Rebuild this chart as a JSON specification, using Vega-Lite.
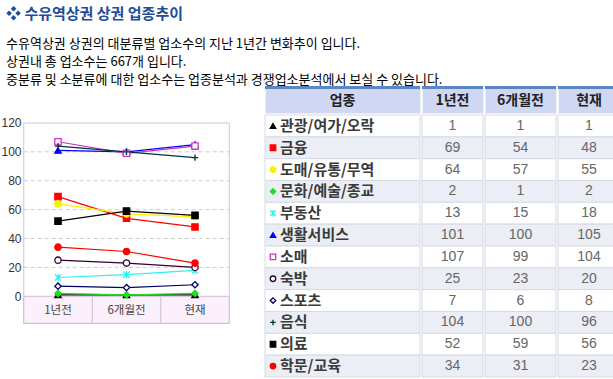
{
  "$schema": "https://vega.github.io/schema/vega-lite/v6.json",
  "padding": {"top": 6, "left": 0, "right": 0, "bottom": 0},
  "background": "white",
  "config": {
    "font": "Noto Sans CJK KR",
    "view": {"stroke": null},
    "axisX": {"disable": true},
    "concat": {"spacing": 0}
  },
  "title": {
    "text": "❖ 수유역상권 상권 업종추이",
    "subtitle": [
      "수유역상권 상권의 대분류별 업소수의 지난 1년간 변화추이 입니다.",
      "상권내 총 업소수는 667개 입니다.",
      "중분류 및 소분류에 대한 업소수는 업종분석과 경쟁업소분석에서 보실 수 있습니다."
    ],
    "anchor": "start",
    "frame": "group",
    "dx": 4,
    "color": "#1d4d9b",
    "font": "Noto Sans CJK KR",
    "fontSize": 15,
    "fontWeight": "bold",
    "subtitleColor": "#000000",
    "subtitleFont": "Noto Sans CJK KR",
    "subtitleFontSize": 13,
    "subtitleLineHeight": 18,
    "subtitlePadding": 16,
    "offset": -1
  },
  "datasets": {
    "rows": [
      {"i": 0, "name": "관광/여가/오락", "a": 1, "b": 1, "c": 1},
      {"i": 1, "name": "금융", "a": 69, "b": 54, "c": 48},
      {"i": 2, "name": "도매/유통/무역", "a": 64, "b": 57, "c": 55},
      {"i": 3, "name": "문화/예술/종교", "a": 2, "b": 1, "c": 2},
      {"i": 4, "name": "부동산", "a": 13, "b": 15, "c": 18},
      {"i": 5, "name": "생활서비스", "a": 101, "b": 100, "c": 105},
      {"i": 6, "name": "소매", "a": 107, "b": 99, "c": 104},
      {"i": 7, "name": "숙박", "a": 25, "b": 23, "c": 20},
      {"i": 8, "name": "스포츠", "a": 7, "b": 6, "c": 8},
      {"i": 9, "name": "음식", "a": 104, "b": 100, "c": 96},
      {"i": 10, "name": "의료", "a": 52, "b": 59, "c": 56},
      {"i": 11, "name": "학문/교육", "a": 34, "b": 31, "c": 23}
    ],
    "series": [
      {"name": "관광/여가/오락", "t": 0, "v": 1}, {"name": "관광/여가/오락", "t": 1, "v": 1}, {"name": "관광/여가/오락", "t": 2, "v": 1},
      {"name": "금융", "t": 0, "v": 69}, {"name": "금융", "t": 1, "v": 54}, {"name": "금융", "t": 2, "v": 48},
      {"name": "도매/유통/무역", "t": 0, "v": 64}, {"name": "도매/유통/무역", "t": 1, "v": 57}, {"name": "도매/유통/무역", "t": 2, "v": 55},
      {"name": "문화/예술/종교", "t": 0, "v": 2}, {"name": "문화/예술/종교", "t": 1, "v": 1}, {"name": "문화/예술/종교", "t": 2, "v": 2},
      {"name": "부동산", "t": 0, "v": 13}, {"name": "부동산", "t": 1, "v": 15}, {"name": "부동산", "t": 2, "v": 18},
      {"name": "생활서비스", "t": 0, "v": 101}, {"name": "생활서비스", "t": 1, "v": 100}, {"name": "생활서비스", "t": 2, "v": 105},
      {"name": "소매", "t": 0, "v": 107}, {"name": "소매", "t": 1, "v": 99}, {"name": "소매", "t": 2, "v": 104},
      {"name": "숙박", "t": 0, "v": 25}, {"name": "숙박", "t": 1, "v": 23}, {"name": "숙박", "t": 2, "v": 20},
      {"name": "스포츠", "t": 0, "v": 7}, {"name": "스포츠", "t": 1, "v": 6}, {"name": "스포츠", "t": 2, "v": 8},
      {"name": "음식", "t": 0, "v": 104}, {"name": "음식", "t": 1, "v": 100}, {"name": "음식", "t": 2, "v": 96},
      {"name": "의료", "t": 0, "v": 52}, {"name": "의료", "t": 1, "v": 59}, {"name": "의료", "t": 2, "v": 56},
      {"name": "학문/교육", "t": 0, "v": 34}, {"name": "학문/교육", "t": 1, "v": 31}, {"name": "학문/교육", "t": 2, "v": 23}
    ],
    "periods": [
      {"t": 0, "label": "1년전"}, {"t": 1, "label": "6개월전"}, {"t": 2, "label": "현재"}
    ]
  },
  "spacing": 3,
  "bounds": "flush",
  "hconcat": [
    {
      "width": 260,
      "height": 289,
      "layer": [
        {
          "data": {"values": [{}]},
          "mark": {"type": "rect", "fill": "#ffffff", "stroke": "#cccccc", "strokeWidth": 1},
          "encoding": {
            "x": {"datum": -0.5, "type": "quantitative", "scale": {"domain": [-0.8175, 2.978], "nice": false, "zero": false}},
            "x2": {"datum": 2.5},
            "y": {"datum": -18.7, "type": "quantitative", "scale": {"domain": [-54.5, 145.6], "nice": false, "zero": false}},
            "y2": {"datum": 120}
          }
        },
        {
          "data": {"values": [{}]},
          "mark": {"type": "rect", "fill": "#fcf0fc", "stroke": "#cdbcd6", "strokeWidth": 1},
          "encoding": {
            "x": {"datum": -0.5, "type": "quantitative", "scale": {"domain": [-0.8175, 2.978], "nice": false, "zero": false}},
            "x2": {"datum": 2.5},
            "y": {"datum": -18.7, "type": "quantitative", "scale": {"domain": [-54.5, 145.6], "nice": false, "zero": false}},
            "y2": {"datum": 0}
          }
        },
        {
          "data": {"values": [{}]},
          "mark": {"type": "rule", "color": "#cdbcd6", "strokeWidth": 1},
          "encoding": {
            "x": {"datum": 0.5, "type": "quantitative", "scale": {"domain": [-0.8175, 2.978], "nice": false, "zero": false}},
            "y": {"datum": -18.7, "type": "quantitative", "scale": {"domain": [-54.5, 145.6], "nice": false, "zero": false}},
            "y2": {"datum": 0}
          }
        },
        {
          "data": {"values": [{}]},
          "mark": {"type": "rule", "color": "#cdbcd6", "strokeWidth": 1},
          "encoding": {
            "x": {"datum": 1.5, "type": "quantitative", "scale": {"domain": [-0.8175, 2.978], "nice": false, "zero": false}},
            "y": {"datum": -18.7, "type": "quantitative", "scale": {"domain": [-54.5, 145.6], "nice": false, "zero": false}},
            "y2": {"datum": 0}
          }
        },
        {
          "data": {"values": [{"g": 20}, {"g": 40}, {"g": 60}, {"g": 80}, {"g": 100}]},
          "mark": {"type": "rule", "color": "#cccccc", "strokeWidth": 1, "strokeDash": [4, 3]},
          "encoding": {
            "x": {"datum": -0.5, "type": "quantitative", "scale": {"domain": [-0.8175, 2.978], "nice": false, "zero": false}},
            "x2": {"datum": 2.5},
            "y": {"field": "g", "type": "quantitative", "scale": {"domain": [-54.5, 145.6], "nice": false, "zero": false}}
          }
        },
        {
          "data": {"name": "periods"},
          "mark": {"type": "text", "font": "Noto Sans CJK KR", "fontSize": 11.5, "color": "#444444", "baseline": "middle", "align": "center"},
          "encoding": {
            "x": {"field": "t", "type": "quantitative", "scale": {"domain": [-0.8175, 2.978], "nice": false, "zero": false}},
            "y": {"datum": -10, "type": "quantitative", "scale": {"domain": [-54.5, 145.6], "nice": false, "zero": false}},
            "text": {"field": "label"}
          }
        },
        {
          "data": {"name": "series"},
          "mark": {"type": "line", "strokeWidth": 1.2},
          "encoding": {
            "x": {"field": "t", "type": "quantitative", "scale": {"domain": [-0.8175, 2.978], "nice": false, "zero": false}},
            "y": {
              "field": "v", "type": "quantitative", "title": null,
              "scale": {"domain": [-54.5, 145.6], "nice": false, "zero": false},
              "axis": {"values": [0, 20, 40, 60, 80, 100, 120], "offset": -22, "domain": false, "ticks": false, "grid": false, "labelPadding": 3, "labelFont": "Liberation Sans", "labelFontSize": 12, "labelColor": "#333333", "title": null}
            },
            "color": {
              "field": "name", "type": "nominal", "legend": null,
              "scale": {
                "domain": ["관광/여가/오락", "금융", "도매/유통/무역", "문화/예술/종교", "부동산", "생활서비스", "소매", "숙박", "스포츠", "음식", "의료", "학문/교육"],
                "range": ["#000000", "#ff0000", "#ffee00", "#22dd22", "#33eeee", "#0000ff", "#cc33cc", "#330033", "#000066", "#003333", "#000000", "#ff0000"]
              }
            }
          }
        },
        {
          "data": {"name": "series"},
          "mark": {"type": "point", "filled": true, "size": 40, "strokeWidth": 1.3, "opacity": 1},
          "encoding": {
            "x": {"field": "t", "type": "quantitative", "scale": {"domain": [-0.8175, 2.978], "nice": false, "zero": false}},
            "y": {"field": "v", "type": "quantitative", "title": null, "scale": {"domain": [-54.5, 145.6], "nice": false, "zero": false}},
            "shape": {
              "field": "name", "type": "nominal", "legend": null,
              "scale": {
                "domain": ["관광/여가/오락", "금융", "도매/유통/무역", "문화/예술/종교", "부동산", "생활서비스", "소매", "숙박", "스포츠", "음식", "의료", "학문/교육"],
                "range": ["triangle-up", "square", "circle", "diamond", "M-1,-1L1,1M-1,1L1,-1M0,-1.2L0,1.2", "triangle-up", "square", "circle", "diamond", "M-1,0L1,0M0,-1L0,1", "square", "circle"]
              }
            },
            "fill": {
              "field": "name", "type": "nominal", "legend": null,
              "scale": {
                "domain": ["관광/여가/오락", "금융", "도매/유통/무역", "문화/예술/종교", "부동산", "생활서비스", "소매", "숙박", "스포츠", "음식", "의료", "학문/교육"],
                "range": ["#000000", "#ff0000", "#ffee00", "#22dd22", "#33eeee", "#0000ff", "#ffffff", "#ffffff", "#ffffff", "#003333", "#000000", "#ff0000"]
              }
            },
            "stroke": {
              "field": "name", "type": "nominal", "legend": null,
              "scale": {
                "domain": ["관광/여가/오락", "금융", "도매/유통/무역", "문화/예술/종교", "부동산", "생활서비스", "소매", "숙박", "스포츠", "음식", "의료", "학문/교육"],
                "range": ["#000000", "#ff0000", "#ffee00", "#22dd22", "#33eeee", "#0000ff", "#cc33cc", "#330033", "#000066", "#003333", "#000000", "#ff0000"]
              }
            }
          }
        }
      ]
    },
    {
      "hconcat": [
        {
          "vconcat": [
            {
              "width": 155, "height": 27,
              "view": {"fill": "#cfd7f3", "stroke": "#eef0fa"},
              "data": {"values": [{"h": "업종"}]},
              "layer": [
                {"mark": {"type": "rect", "color": "#5b86c2"}, "encoding": {"y": {"value": 0}, "y2": {"value": 3}}},
                {"mark": {"type": "text", "fontSize": 14, "fontWeight": "bold", "color": "#222222", "baseline": "middle", "dy": 1.5}, "encoding": {"text": {"field": "h"}}}
              ]
            },
            {
              "width": 155, "height": 262,
              "data": {"name": "rows"},
              "encoding": {"y": {"field": "name", "type": "nominal", "sort": null, "axis": null, "scale": {"paddingInner": 0, "paddingOuter": 0}}},
              "layer": [
                {"mark": {"type": "rect", "stroke": "#d6dae4", "strokeWidth": 1}, "encoding": {"fill": {"condition": {"test": "datum.i % 2 == 1", "value": "#eceef5"}, "value": "#ffffff"}}},
                {
                  "mark": {"type": "point", "filled": true, "size": 30, "strokeWidth": 1.3, "opacity": 1},
                  "encoding": {
                    "x": {"value": 8},
                    "shape": {
                      "field": "name", "type": "nominal", "legend": null,
                      "scale": {
                        "domain": ["관광/여가/오락", "금융", "도매/유통/무역", "문화/예술/종교", "부동산", "생활서비스", "소매", "숙박", "스포츠", "음식", "의료", "학문/교육"],
                        "range": ["triangle-up", "square", "circle", "diamond", "M-1,-1L1,1M-1,1L1,-1M0,-1.2L0,1.2", "triangle-up", "square", "circle", "diamond", "M-1,0L1,0M0,-1L0,1", "square", "circle"]
                      }
                    },
                    "fill": {
                      "field": "name", "type": "nominal", "legend": null,
                      "scale": {
                        "domain": ["관광/여가/오락", "금융", "도매/유통/무역", "문화/예술/종교", "부동산", "생활서비스", "소매", "숙박", "스포츠", "음식", "의료", "학문/교육"],
                        "range": ["#000000", "#ff0000", "#ffee00", "#22dd22", "#33eeee", "#0000ff", "#ffffff", "#ffffff", "#ffffff", "#003333", "#000000", "#ff0000"]
                      }
                    },
                    "stroke": {
                      "field": "name", "type": "nominal", "legend": null,
                      "scale": {
                        "domain": ["관광/여가/오락", "금융", "도매/유통/무역", "문화/예술/종교", "부동산", "생활서비스", "소매", "숙박", "스포츠", "음식", "의료", "학문/교육"],
                        "range": ["#000000", "#ff0000", "#ffee00", "#22dd22", "#33eeee", "#0000ff", "#cc33cc", "#330033", "#000066", "#003333", "#000000", "#ff0000"]
                      }
                    }
                  }
                },
                {"mark": {"type": "text", "fontSize": 15, "fontWeight": "bold", "color": "#3a3a3a", "baseline": "middle", "align": "left"}, "encoding": {"x": {"value": 15}, "text": {"field": "name"}}}
              ]
            }
          ]
        },
        {
          "vconcat": [
            {
              "width": 61, "height": 27,
              "view": {"fill": "#cfd7f3", "stroke": "#eef0fa"},
              "data": {"values": [{"h": "1년전"}]},
              "layer": [
                {"mark": {"type": "rect", "color": "#5b86c2"}, "encoding": {"y": {"value": 0}, "y2": {"value": 3}}},
                {"mark": {"type": "text", "fontSize": 14, "fontWeight": "bold", "color": "#222222", "baseline": "middle", "dy": 1.5}, "encoding": {"text": {"field": "h"}}}
              ]
            },
            {
              "width": 61, "height": 262,
              "data": {"name": "rows"},
              "encoding": {"y": {"field": "name", "type": "nominal", "sort": null, "axis": null, "scale": {"paddingInner": 0, "paddingOuter": 0}}},
              "layer": [
                {"mark": {"type": "rect", "stroke": "#d6dae4", "strokeWidth": 1}, "encoding": {"fill": {"condition": {"test": "datum.i % 2 == 1", "value": "#eceef5"}, "value": "#ffffff"}}},
                {"mark": {"type": "text", "font": "Liberation Sans", "fontSize": 14, "color": "#666666", "baseline": "middle"}, "encoding": {"text": {"field": "a"}}}
              ]
            }
          ]
        },
        {
          "vconcat": [
            {
              "width": 71, "height": 27,
              "view": {"fill": "#cfd7f3", "stroke": "#eef0fa"},
              "data": {"values": [{"h": "6개월전"}]},
              "layer": [
                {"mark": {"type": "rect", "color": "#5b86c2"}, "encoding": {"y": {"value": 0}, "y2": {"value": 3}}},
                {"mark": {"type": "text", "fontSize": 14, "fontWeight": "bold", "color": "#222222", "baseline": "middle", "dy": 1.5}, "encoding": {"text": {"field": "h"}}}
              ]
            },
            {
              "width": 71, "height": 262,
              "data": {"name": "rows"},
              "encoding": {"y": {"field": "name", "type": "nominal", "sort": null, "axis": null, "scale": {"paddingInner": 0, "paddingOuter": 0}}},
              "layer": [
                {"mark": {"type": "rect", "stroke": "#d6dae4", "strokeWidth": 1}, "encoding": {"fill": {"condition": {"test": "datum.i % 2 == 1", "value": "#eceef5"}, "value": "#ffffff"}}},
                {"mark": {"type": "text", "font": "Liberation Sans", "fontSize": 14, "color": "#666666", "baseline": "middle"}, "encoding": {"text": {"field": "b"}}}
              ]
            }
          ]
        },
        {
          "vconcat": [
            {
              "width": 62, "height": 27,
              "view": {"fill": "#cfd7f3", "stroke": "#eef0fa"},
              "data": {"values": [{"h": "현재"}]},
              "layer": [
                {"mark": {"type": "rect", "color": "#5b86c2"}, "encoding": {"y": {"value": 0}, "y2": {"value": 3}}},
                {"mark": {"type": "text", "fontSize": 14, "fontWeight": "bold", "color": "#222222", "baseline": "middle", "dy": 1.5}, "encoding": {"text": {"field": "h"}}}
              ]
            },
            {
              "width": 62, "height": 262,
              "data": {"name": "rows"},
              "encoding": {"y": {"field": "name", "type": "nominal", "sort": null, "axis": null, "scale": {"paddingInner": 0, "paddingOuter": 0}}},
              "layer": [
                {"mark": {"type": "rect", "stroke": "#d6dae4", "strokeWidth": 1}, "encoding": {"fill": {"condition": {"test": "datum.i % 2 == 1", "value": "#eceef5"}, "value": "#ffffff"}}},
                {"mark": {"type": "text", "font": "Liberation Sans", "fontSize": 14, "color": "#666666", "baseline": "middle"}, "encoding": {"text": {"field": "c"}}}
              ]
            }
          ]
        }
      ]
    }
  ]
}
